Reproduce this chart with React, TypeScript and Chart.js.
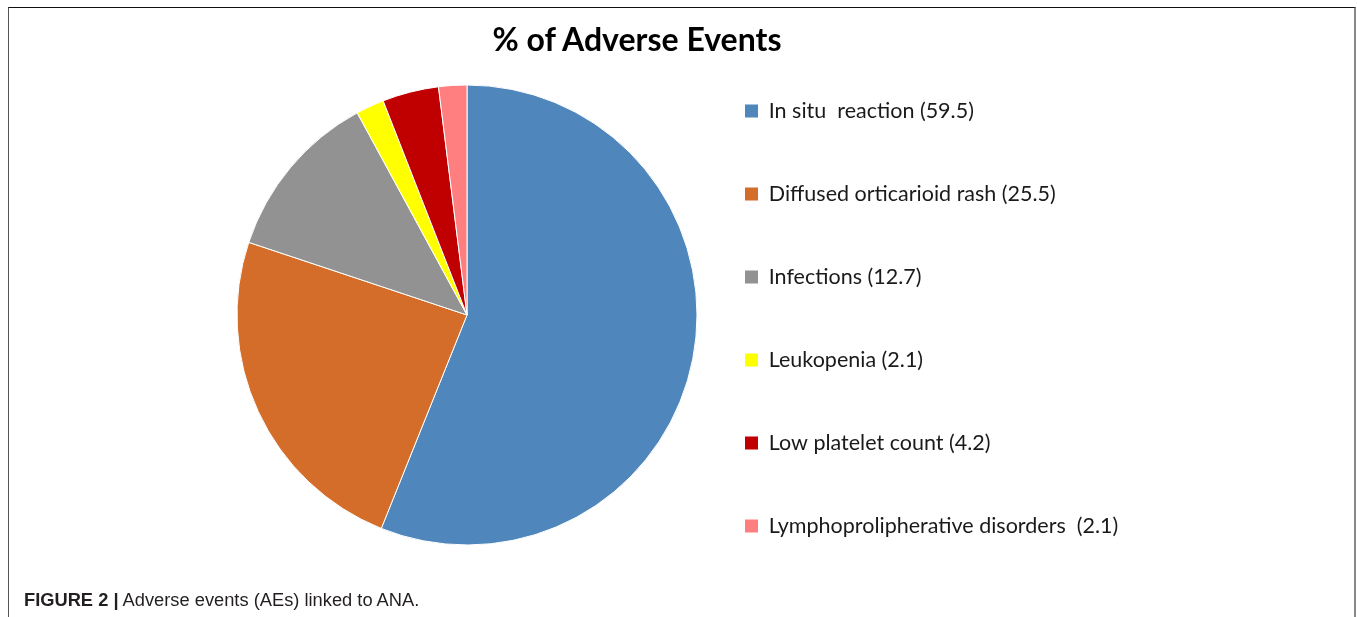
import React, { useEffect, useRef } from 'react';
import { Chart, registerables } from 'chart.js';

Chart.register(...registerables);

// ---- data ----
const categories = [
  'In situ  reaction',
  'Diffused orticarioid rash',
  'Infections',
  'Leukopenia',
  'Low platelet count',
  'Lymphoprolipherative disorders ',
];
const values = [59.5, 25.5, 12.7, 2.1, 4.2, 2.1];
const colors = ['#4F86BC', '#D36D29', '#929292', '#FFFF00', '#C00000', '#FF7F80'];
const chartTitle = '% of Adverse Events';
const captionBold = 'FIGURE 2 |';
const captionText = ' Adverse events (AEs) linked to ANA.';

// ---- layout targets (canvas px; canvas sits at page x=9, y=8) ----
const W = 1346;
const H = 594;
const FONT = 'Lato, "Open Sans", sans-serif';
const legendFont = 21.5;
const legendStep = 83;
const legendPad = 20;
const legendLine = legendStep - legendPad; // per-item height
const boxW = 13;
const boxX = 736;
const pieCx = 458;
const pieCy = 307;
const pieR = 230;
const legendFirstCy = 103;
const padTop = 2 * pieCy - H; // chart area [padTop, H]

const legendLeft = boxX - legendPad;
const padLeft = 2 * pieCx - legendLeft;
const nItems = values.length;
const legendTitleH =
  2 * (legendFirstCy - legendFont / 2) - legendPad - padTop - H + nItems * legendStep;

export default function App() {
  const ref = useRef<HTMLCanvasElement | null>(null);

  useEffect(() => {
    if (!ref.current) return;
    const labels = categories.map((c, i) => `${c} (${values[i]})`);
    const mctx = document.createElement('canvas').getContext('2d')!;
    mctx.font = `normal ${legendFont}px ${FONT}`;
    const maxTextW = Math.max(...labels.map((t) => mctx.measureText(t).width));
    const legendW = legendPad + boxW + legendFont / 2 + maxTextW + 10;
    const padRight = W - legendLeft - legendW;

    const baseGen = (Chart as any).overrides.pie.plugins.legend.labels.generateLabels;
    const chart = new Chart(ref.current, {
      type: 'pie',
      data: {
        labels,
        datasets: [
          {
            data: values,
            backgroundColor: colors,
            borderColor: '#ffffff',
            borderWidth: 1,
            hoverOffset: 0,
            radius: pieR,
          } as any,
        ],
      },
      options: {
        responsive: false,
        animation: false,
        devicePixelRatio: 1,
        layout: { padding: { left: padLeft, right: padRight, top: padTop, bottom: 0 } },
        plugins: {
          title: { display: false },
          legend: {
            position: 'right',
            align: 'center',
            title: {
              display: true,
              text: '',
              font: { size: 10, lineHeight: 1.2 },
              padding: { top: 0, bottom: legendTitleH - 12 } as any,
            },
            labels: {
              boxWidth: boxW,
              boxHeight: 13,
              padding: legendPad,
              color: '#1a1a1a',
              font: { family: FONT, size: legendFont, lineHeight: legendLine / legendFont },
              generateLabels: (c: any) =>
                baseGen(c).map((l: any) => ({ ...l, text: [l.text], lineWidth: 0 })),
            },
          },
          tooltip: { enabled: false },
        },
      } as any,
    });
    return () => chart.destroy();
  }, []);

  return (
    <div
      style={{
        position: 'fixed',
        left: 0,
        top: 0,
        width: 1357,
        height: 617,
        overflow: 'hidden',
        background: '#fff',
      }}
    >
      <div
        style={{
          position: 'absolute',
          left: 8,
          top: 7,
          width: 1345,
          height: 700,
          borderTop: '1px solid #111',
          borderLeft: '1px solid #555',
          borderRight: '2px solid #888',
        }}
      />
      <canvas
        ref={ref}
        width={W}
        height={H}
        style={{ position: 'absolute', left: 9, top: 8, display: 'block' }}
      />
      <div
        style={{
          position: 'absolute',
          left: 437,
          width: 400,
          top: 22.6,
          textAlign: 'center',
          fontFamily: FONT,
          fontWeight: 'bold',
          fontSize: 32,
          lineHeight: '32px',
          color: '#000',
          whiteSpace: 'nowrap',
        }}
      >
        {chartTitle}
      </div>
      <div
        style={{
          position: 'absolute',
          left: 24,
          top: 590.7,
          fontFamily: '"Liberation Sans", Arial, sans-serif',
          fontSize: 18.3,
          lineHeight: '18px',
          color: '#231f20',
          whiteSpace: 'pre',
        }}
      >
        <b>{captionBold}</b>
        {captionText}
      </div>
    </div>
  );
}
